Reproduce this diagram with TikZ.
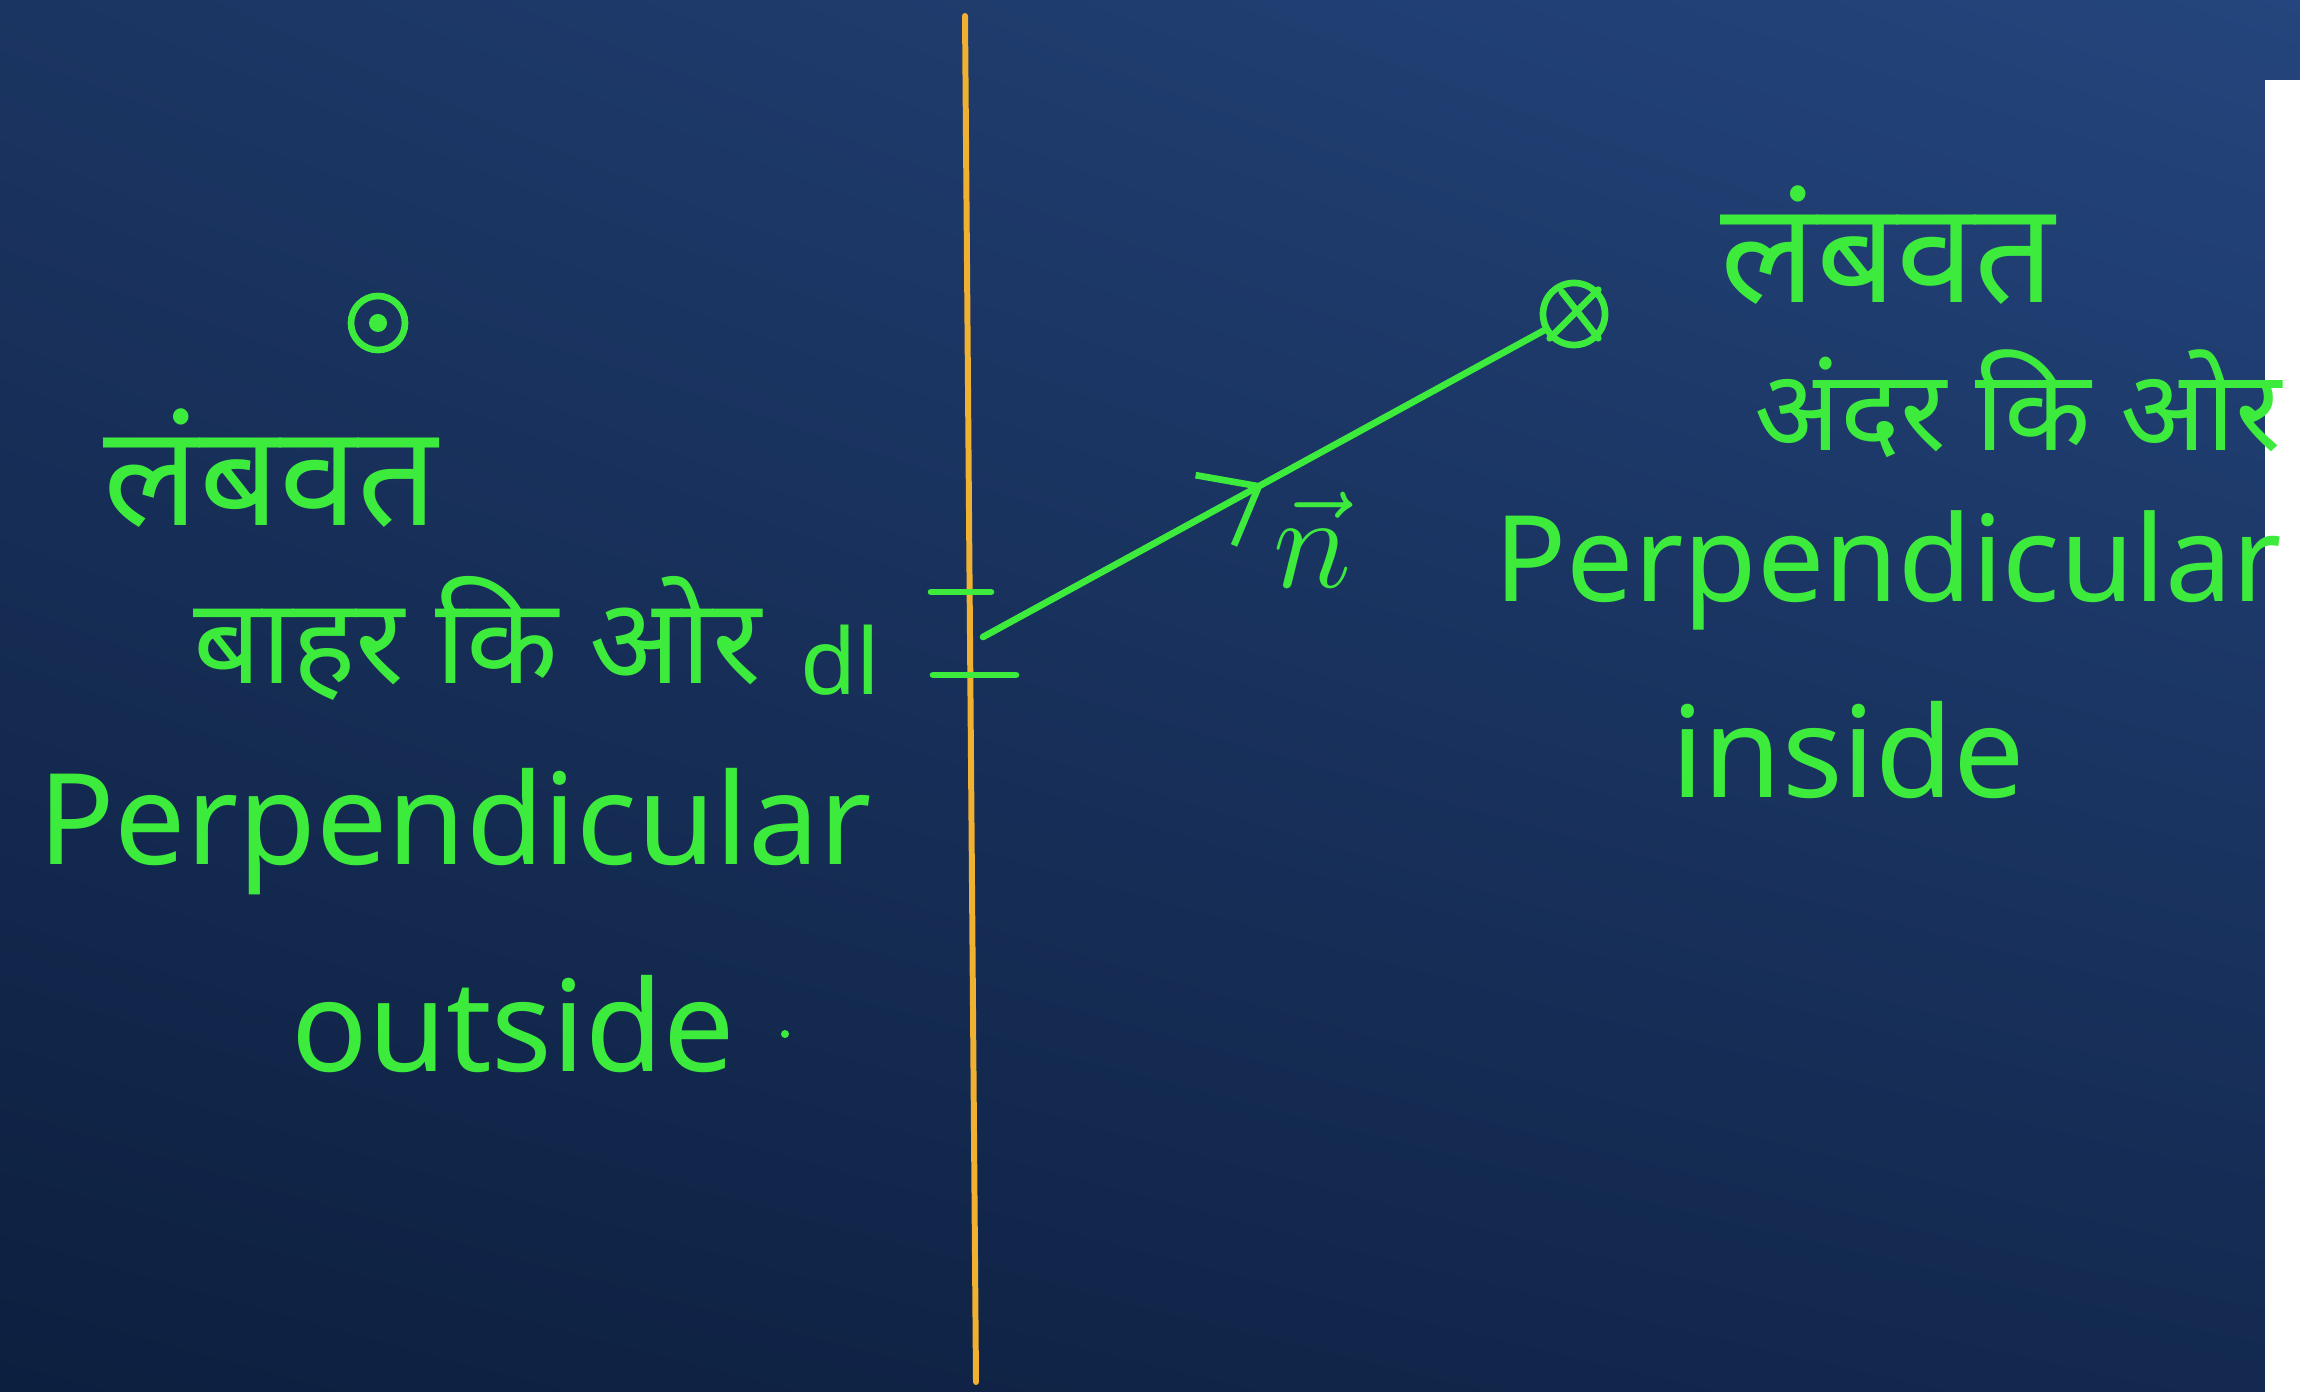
\documentclass[tikz,border=0pt]{standalone}
\usepackage{fontspec}
\setmainfont{Noto Sans}
\newfontfamily\hindi[Script=Devanagari]{Noto Sans}
\usetikzlibrary{arrows.meta,decorations.markings,shadings}

\definecolor{bgul}{HTML}{1B3562}
\definecolor{bgur}{HTML}{24457D}
\definecolor{bgll}{HTML}{0D1F3F}
\definecolor{bglr}{HTML}{13294F}
\definecolor{chalk}{HTML}{3DEB3D}
\definecolor{wall}{HTML}{F0B032}

\begin{document}
\begin{tikzpicture}[x=0.01cm,y=-0.01cm,
  chalkline/.style={draw=chalk,line width=1.9pt,line cap=round},
  chalktext/.style={text=chalk,inner sep=0pt,font=\fontsize{36}{40}\selectfont},
  hinditext/.style={chalktext,font=\hindi\fontsize{40}{44}\selectfont}]
\useasboundingbox (0,0) rectangle (2300,1392);
% board
\shade[upper left=bgul,upper right=bgur,lower left=bgll,lower right=bglr]
  (0,0) rectangle (2300,1392);
\fill[white] (2265,80) rectangle (2300,1392);

% the wall
\draw[wall,line width=1.7pt,line cap=round] (965,16) -- (976,1382);
\draw[chalkline] (931,592) -- (991,592);
\draw[chalkline] (933,675) -- (1016,675);

% field directions
\node[chalkline,circle,minimum size=0.54cm,inner sep=0pt] (outdot) at (378,323) {};
\fill[chalk] (outdot.center) circle (9);
\node[chalkline,circle,minimum size=0.62cm,inner sep=0pt] (incross) at (1574,314) {};
\draw[chalkline] (incross.north west) ++(12,2) -- (incross.south east);
\draw[chalkline] (incross.north east) -- (incross.south west);

% normal vector
\coordinate (foot) at (983,637);
\draw[chalkline,postaction={decorate},decoration={markings,
  mark=at position 0.5 with {\arrow{Straight Barb[length=5mm,width=8mm,line width=1.9pt]}}}]
  (foot) -- (incross);
\node[text=chalk,font=\LARGE] (nvec) at (1313,540) {\scalebox{2.2}{$\vec{n}$}};

% left side labels
\node[hinditext] (lambL) at (271,468) {लंबवत};
\node[hinditext,font=\hindi\fontsize{34}{38}\selectfont] (baharL) at (477,638) {बाहर कि ओर};
\node[chalktext,font=\fontsize{26}{30}\selectfont] (dlL) at (840,660) {dl};
\node[chalktext] (perpL) at (455,832) {Perpendicular};
\node[chalktext] (outL) at (513,1024) {outside};
\fill[chalk] (785,1034) circle (4);

% right side labels
\node[hinditext] (lambR) at (1888,245) {लंबवत};
\node[hinditext,font=\hindi\fontsize{32}{36}\selectfont] (andarR) at (2018,404) {अंदर कि ओर};
\node[chalktext,font=\fontsize{34}{38}\selectfont] (perpR) at (1888,570) {Perpendicular};
\node[chalktext] (inR) at (1848,750) {inside};
\end{tikzpicture}
\end{document}
